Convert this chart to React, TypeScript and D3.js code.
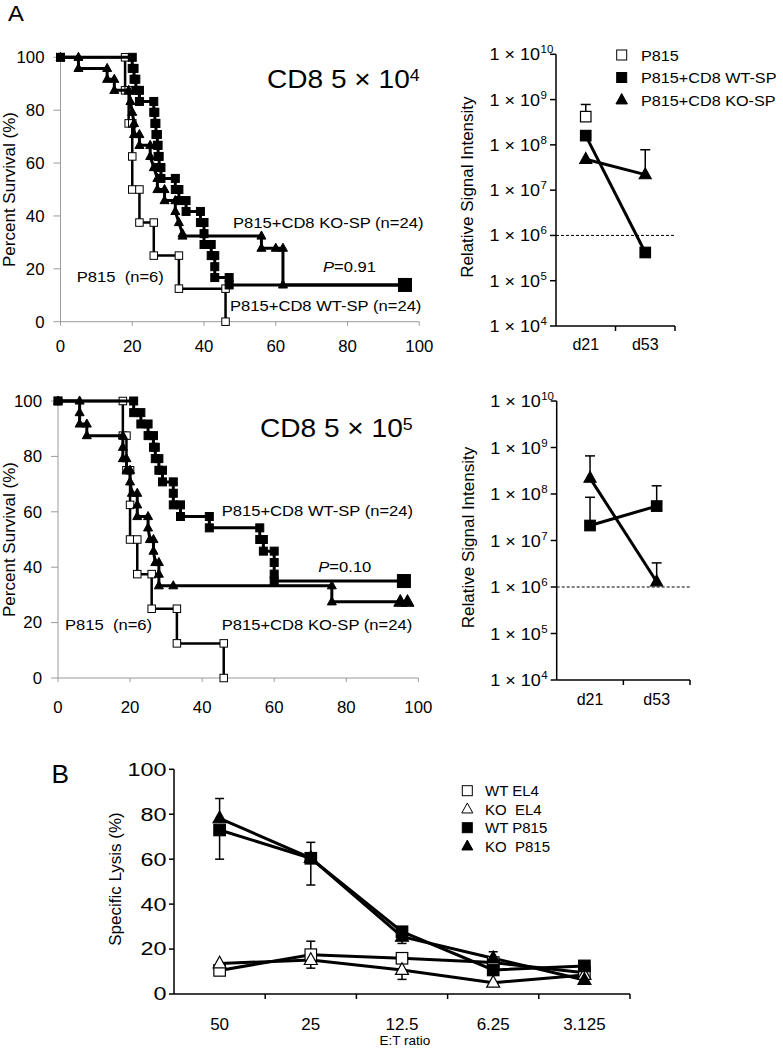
import React from 'react';
import * as d3 from 'd3';

const FONT = "'Liberation Sans', Arial, Helvetica, sans-serif";
type Pt = [number, number];

// ---------- Panel A : Kaplan-Meier, CD8 5x10^4 ----------
const kmTicks = [0, 20, 40, 60, 80, 100];
const km1P815: Pt[] = [[0,100],[18,100],[18,87.5],[19,87.5],[19,75],[20,75],[20,62.5],[20,50],[22,50],[22,37.5],[26,37.5],[26,25],[33,25],[33,12.5],[46,12.5],[46,0]];
const km1KO: Pt[] = [[0,100],[5,100],[5,95.8],[13,95.8],[13,91.7],[15,91.7],[15,87.5],[19,87.5],[19.5,83.3],[20,79.2],[20.5,75],[20.5,70.8],[22,70.8],[22,66.7],[25,66.7],[25,62.5],[26,58.3],[27,54.2],[27,50],[29,50],[29,45.8],[32,45.8],[32,41.7],[33,37.5],[34,33.3],[34,32.4],[56,32.4],[56,27.8],[60,27.8],[62,27.8],[62,13.9],[96,13.9]];
const km1WT: Pt[] = [[0,100],[20,100],[20,95.8],[20.5,95.8],[20.5,91.7],[21,91.7],[21,87.5],[22,87.5],[22,83.3],[26,83.3],[26,79.2],[26.3,79.2],[26.3,75],[26.6,75],[26.6,70.8],[27,70.8],[27,66.7],[27.2,66.7],[27.2,62.5],[27.5,62.5],[27.5,58.3],[28,58.3],[28,54.2],[32,54.2],[32,50],[33,50],[33,45.8],[35,45.8],[35,41.7],[39,41.7],[39,37.5],[40,37.5],[40,33.3],[40,29.2],[42,29.2],[42,25],[43,25],[43,20.8],[43,16.7],[47,16.7],[47,13.9]];
const km1WTEnd: Pt[] = [[96,13.9]];
const km1KOEnd: Pt[] = [];

// ---------- Panel A : Kaplan-Meier, CD8 5x10^5 ----------
const km2P815: Pt[] = [[0,100],[18,100],[18,87.5],[19,87.5],[19,75],[20,75],[20,62.5],[20,50],[22,50],[22,37.5],[26,37.5],[26,25],[33,25],[33,12.5],[46,12.5],[46,0]];
const km2KO: Pt[] = [[0,100],[6,100],[6,95.8],[6,91.7],[8,91.7],[8,87.5],[18,87.5],[18,83.3],[18,79.2],[19,79.2],[19,75],[20,75],[20,70.8],[20.5,66.7],[22,66.7],[22,62.5],[22,58.3],[25,58.3],[25,54.2],[25.5,50],[26.5,50],[26.5,45.8],[27,41.7],[28,41.7],[28,37.5],[28,33.3],[32,33.3],[76,33.3],[76,27.5]];
const km2WT: Pt[] = [[0,100],[21,100],[21,95.8],[23,95.8],[23,91.7],[25,91.7],[25,87.5],[26.5,87.5],[26.5,83.3],[27,83.3],[27,79.2],[28,79.2],[28,75],[29,75],[29,70.8],[32,70.8],[32,66.7],[32,62.5],[34,62.5],[34,58.3],[42,58.3],[42,54.2],[56,54.2],[56,50],[57,50],[57,45.8],[60,45.8],[60,41.7],[60,37.5],[60,35]];
const km2WTEnd: Pt[] = [[96,35]];
const km2KOEnd: Pt[] = [[95,27.5],[97,27.5]];

// ---------- Panel A : bioluminescence (log) ----------
const days = ['d21', 'd53'];
const logPowers = [4, 5, 6, 7, 8, 9, 10];
const detectionLimit = 1e6;
const sig1P815: (number | null)[] = [4.2e8, null];
const sig1P815Err: (number | null)[] = [7.8e8, null];
const sig1WT: (number | null)[] = [1.6e8, 4.2e5];
const sig1WTErr: (number | null)[] = [null, null];
const sig1KO: (number | null)[] = [4.8e7, 2.2e7];
const sig1KOErr: (number | null)[] = [null, 7.8e7];
const sig2WT: (number | null)[] = [2.1e7, 5.5e7];
const sig2WTErr: (number | null)[] = [8.5e7, 1.5e8];
const sig2KO: (number | null)[] = [2.2e8, 1.3e6];
const sig2KOErr: (number | null)[] = [6.6e8, 3.3e6];

// ---------- Panel B : cytotoxicity ----------
const etRatios = ['50', '25', '12.5', '6.25', '3.125'];
const lysisTicks = [0, 20, 40, 60, 80, 100];
const wtEL4 = [10.5, 17.5, 15.9, 14, 9.5];
const koEL4 = [13.6, 15.1, 10.7, 5, 8.5];
const wtP815 = [73, 60.4, 27.7, 10.7, 12.5];
const koP815 = [78.2, 60.5, 25.5, 15.9, 6.2];
const wtEL4Err: (number | null)[] = [null, 23.5, null, null, null];
const koEL4Err: (number | null)[] = [null, 11.5, 6.5, null, null];
const wtP815Err: (number | null)[] = [60, 48.5, null, null, null];
const koP815Err: (number | null)[] = [87, 67.5, 22.5, 18.8, null];

function Txt({ x, y, size, anchor = 'start', sx = 1, rot = 0, italic = false, children }: any) {
  let tr = `translate(${x},${y})`;
  if (rot) tr += ` rotate(${rot})`;
  if (sx !== 1) tr += ` scale(${sx},1)`;
  return (
    <text transform={tr} fontFamily={FONT} fontSize={size} textAnchor={anchor}
      fontStyle={italic ? 'italic' : 'normal'} fill="#000" style={{ whiteSpace: 'pre' }}>
      {children}
    </text>
  );
}

function Mk({ shape, fill, x, y, s, sw = 1 }: any) {
  const f = fill ? '#000' : '#fff';
  if (shape === 'sq') {
    return <rect x={x - s / 2} y={y - s / 2} width={s} height={s} fill={f} stroke="#000" strokeWidth={sw} />;
  }
  const h = s * 0.9;
  return <path d={`M${x},${y - h * 0.62}L${x + s / 2},${y + h * 0.38}L${x - s / 2},${y + h * 0.38}Z`} fill={f} stroke="#000" strokeWidth={sw} />;
}

function KM({ x0, x1, y0, y1, labelBase, series }: any) {
  const x = d3.scaleLinear().domain([0, 100]).range([x0, x1]);
  const y = d3.scaleLinear().domain([0, 100]).range([y0, y1]);
  const line = d3.line<Pt>().x(d => x(d[0])).y(d => y(d[1]));
  const axc = '#9a9a9a';
  return (
    <g>
      <line x1={x(0)} x2={x(0)} y1={y(0)} y2={y(100)} stroke={axc} strokeWidth={1} />
      <line x1={x(0)} x2={x(100)} y1={y(0)} y2={y(0)} stroke={axc} strokeWidth={1} />
      {kmTicks.map(t => (
        <g key={'y' + t}>
          <line x1={x(0) - 7} x2={x(0)} y1={y(t)} y2={y(t)} stroke={axc} />
          <Txt x={x(0) - 16} y={y(t) + 5.8} size={16} anchor="end" sx={1.05}>{String(t)}</Txt>
        </g>
      ))}
      {kmTicks.map(t => (
        <g key={'x' + t}>
          <line x1={x(t)} x2={x(t)} y1={y(0)} y2={y(0) + 4} stroke={axc} />
          <Txt x={x(t)} y={labelBase} size={16} anchor="middle" sx={1.05}>{String(t)}</Txt>
        </g>
      ))}
      {series.map((s: any, i: number) => (
        <g key={i}>
          <path d={line(s.pts) || ''} fill="none" stroke="#000" strokeWidth={s.lw} strokeLinejoin="miter" />
          {s.end.length > 0 && (
            <path d={line([s.pts[s.pts.length - 1], ...s.end]) || ''} fill="none" stroke="#000" strokeWidth={s.lw} />
          )}
          {s.pts.map((p: Pt, j: number) => (
            <Mk key={j} shape={s.shape} fill={s.fill} x={x(p[0])} y={y(p[1])} s={s.ms} />
          ))}
          {s.end.map((p: Pt, j: number) => (
            <Mk key={'e' + j} shape={s.shape} fill={s.fill} x={x(p[0])} y={y(p[1])} s={13} />
          ))}
        </g>
      ))}
    </g>
  );
}

function LogPanel({ x0, x1, yTop, yBot, labelBase, series, legend }: any) {
  const x = d3.scaleBand<string>().domain(days).range([x0, x1]);
  const cx = (d: string) => (x(d) as number) + x.bandwidth() / 2;
  const y = d3.scaleLog().domain([1e4, 1e10]).range([yBot, yTop]);
  return (
    <g>
      <line x1={x0} x2={x0} y1={yBot} y2={yTop} stroke="#000" strokeWidth={1.5} />
      <line x1={x0} x2={x1} y1={yBot} y2={yBot} stroke="#000" strokeWidth={1.5} />
      {logPowers.map(p => (
        <g key={p}>
          <line x1={x0 - 6} x2={x0} y1={y(Math.pow(10, p))} y2={y(Math.pow(10, p))} stroke="#000" strokeWidth={1.5} />
          <Txt x={x0 - 16} y={y(Math.pow(10, p)) + 6} size={17} anchor="end" sx={1.06}>1 × 10</Txt>
          <Txt x={x0 - 15.5} y={y(Math.pow(10, p)) - 1} size={11.5}>{String(p)}</Txt>
        </g>
      ))}
      {days.map((d, i) => (
        <g key={d}>
          <line x1={(x(d) as number) + x.bandwidth()} x2={(x(d) as number) + x.bandwidth()} y1={yBot} y2={yBot + 5} stroke="#000" strokeWidth={1.5} />
          <Txt x={cx(d)} y={labelBase} size={16} anchor="middle">{d}</Txt>
        </g>
      ))}
      <line x1={x0} x2={x1 + 1} y1={y(detectionLimit)} y2={y(detectionLimit)} stroke="#000" strokeWidth={1} strokeDasharray="3,2" />
      <Txt x={x0 - 83} y={(yTop + yBot) / 2 - 3} size={17} anchor="middle" rot={-90}>Relative Signal Intensity</Txt>
      {series.map((s: any, i: number) => {
        const pts = s.vals.map((v: number | null, j: number) => (v == null ? null : [cx(days[j]), y(v)])).filter((p: any) => p);
        return (
          <g key={i}>
            {s.err.map((e: number | null, j: number) => e == null || s.vals[j] == null ? null : (
              <g key={j}>
                <line x1={cx(days[j])} x2={cx(days[j])} y1={y(s.vals[j])} y2={y(e)} stroke="#000" strokeWidth={1.5} />
                <line x1={cx(days[j]) - 5} x2={cx(days[j]) + 5} y1={y(e)} y2={y(e)} stroke="#000" strokeWidth={1.5} />
              </g>
            ))}
            {pts.length > 1 && <path d={d3.line()(pts) || ''} stroke="#000" strokeWidth={3} fill="none" />}
            {pts.map((p: any, j: number) => <Mk key={j} shape={s.shape} fill={s.fill} x={p[0]} y={p[1]} s={s.shape === 'sq' ? 10.5 : 12} sw={1.2} />)}
          </g>
        );
      })}
      {legend && legend.map((l: any, i: number) => (
        <g key={i}>
          <Mk shape={l.shape} fill={l.fill} x={621.7} y={55 + i * 22.5} s={l.shape === 'sq' ? 10 : 11.5} />
          <Txt x={641} y={55 + i * 22.5 + 5.5} size={15} sx={1.08}>{l.label}</Txt>
        </g>
      ))}
    </g>
  );
}

function PanelB() {
  const x = d3.scaleBand<string>().domain(etRatios).range([174, 630]);
  const cx = (d: string) => (x(d) as number) + x.bandwidth() / 2;
  const y = d3.scaleLinear().domain([0, 100]).range([994, 769.3]);
  const series = [
    { vals: wtEL4, err: wtEL4Err, shape: 'sq', fill: false, label: 'WT EL4' },
    { vals: koEL4, err: koEL4Err, shape: 'tri', fill: false, label: 'KO  EL4' },
    { vals: koP815, err: koP815Err, shape: 'tri', fill: true, label: 'KO  P815' },
    { vals: wtP815, err: wtP815Err, shape: 'sq', fill: true, label: 'WT P815' },
  ];
  const legendOrder = [0, 1, 3, 2];
  const line = d3.line<number>().x((_, i) => cx(etRatios[i])).y(v => y(v));
  return (
    <g>
      <Txt x={51.5} y={783.3} size={25} sx={1.05}>B</Txt>
      <line x1={174} x2={174} y1={y(0)} y2={y(100)} stroke="#000" strokeWidth={1.5} />
      <line x1={174} x2={630} y1={y(0)} y2={y(0)} stroke="#000" strokeWidth={1.5} />
      {lysisTicks.map(t => (
        <g key={t}>
          <line x1={169} x2={174} y1={y(t)} y2={y(t)} stroke="#000" strokeWidth={1.5} />
          <Txt x={166.5} y={y(t) + 6.4} size={18} anchor="end" sx={1.3}>{String(t)}</Txt>
        </g>
      ))}
      {etRatios.map(r => (
        <g key={r}>
          <line x1={(x(r) as number) + x.bandwidth()} x2={(x(r) as number) + x.bandwidth()} y1={y(0)} y2={y(0) + 5} stroke="#000" strokeWidth={1.5} />
          <Txt x={cx(r)} y={1029.5} size={17} anchor="middle">{r}</Txt>
        </g>
      ))}
      <Txt x={405} y={1045.3} size={13.5} anchor="middle">E:T ratio</Txt>
      <Txt x={120.5} y={879} size={17} anchor="middle" rot={-90}>Specific Lysis (%)</Txt>
      {series.map((s, i) => (
        <g key={i}>
          {s.err.map((e, j) => e == null ? null : (
            <g key={j}>
              <line x1={cx(etRatios[j])} x2={cx(etRatios[j])} y1={y(s.vals[j])} y2={y(e)} stroke="#000" strokeWidth={1.5} />
              <line x1={cx(etRatios[j]) - 4.5} x2={cx(etRatios[j]) + 4.5} y1={y(e)} y2={y(e)} stroke="#000" strokeWidth={1.5} />
            </g>
          ))}
        </g>
      ))}
      {series.map((s, i) => (
        <path key={i} d={line(s.vals) || ''} fill="none" stroke="#000" strokeWidth={3} />
      ))}
      {series.map((s, i) => (
        <g key={i}>
          {s.vals.map((v, j) => (
            <Mk key={j} shape={s.shape} fill={s.fill} x={cx(etRatios[j])} y={y(v)} s={s.shape === 'sq' ? 11.5 : 13} sw={1.2} />
          ))}
        </g>
      ))}
      {legendOrder.map((k, i) => (
        <g key={i}>
          <Mk shape={series[k].shape} fill={series[k].fill} x={467.3} y={790.7 + i * 18.5} s={series[k].shape === 'sq' ? 10 : 11} />
          <Txt x={485} y={790.7 + i * 18.5 + 5.3} size={15}>{series[k].label}</Txt>
        </g>
      ))}
    </g>
  );
}

export default function App() {
  const km1Series = [
    { pts: km1P815, end: [], shape: 'sq', fill: false, ms: 7.5, lw: 2.5 },
    { pts: km1KO, end: km1KOEnd, shape: 'tri', fill: true, ms: 9, lw: 3 },
    { pts: km1WT, end: km1WTEnd, shape: 'sq', fill: true, ms: 8, lw: 3 },
  ];
  const km2Series = [
    { pts: km2P815, end: [], shape: 'sq', fill: false, ms: 7.5, lw: 2.5 },
    { pts: km2KO, end: km2KOEnd, shape: 'tri', fill: true, ms: 9, lw: 3 },
    { pts: km2WT, end: km2WTEnd, shape: 'sq', fill: true, ms: 8, lw: 3 },
  ];
  return (
    <svg width={783} height={1049} style={{ position: 'absolute', left: 0, top: 0, background: '#fff' }}>
      <rect x={0} y={0} width={783} height={1049} fill="#fff" />
      <Txt x={8} y={20.5} size={22} sx={1.08}>A</Txt>

      {/* KM 1 */}
      <KM x0={60.5} x1={419.3} y0={321.7} y1={57.3} labelBase={352} series={km1Series} />
      <Txt x={14.5} y={189.5} size={17} anchor="middle" rot={-90}>Percent Survival (%)</Txt>
      <text transform="translate(267,88.3) scale(1.08,1)" fontFamily={FONT} fontSize={26}>CD8 5 × 10<tspan fontSize={16.5} dy={-7}>4</tspan></text>
      <Txt x={233} y={227.5} size={15.5} sx={1.07}>P815+CD8 KO-SP (n=24)</Txt>
      <text transform="translate(323,271.7) scale(1.07,1)" fontFamily={FONT} fontSize={15.5}><tspan fontStyle="italic">P</tspan>=0.91</text>
      <Txt x={76.7} y={281.7} size={15.5} sx={1.07}>P815  (n=6)</Txt>
      <Txt x={230} y={311} size={15.5} sx={1.07}>P815+CD8 WT-SP (n=24)</Txt>

      {/* KM 2 */}
      <KM x0={58} x1={418.3} y0={678} y1={401} labelBase={713} series={km2Series} />
      <Txt x={14.5} y={539.5} size={17} anchor="middle" rot={-90}>Percent Survival (%)</Txt>
      <text transform="translate(260,436.7) scale(1.08,1)" fontFamily={FONT} fontSize={26}>CD8 5 × 10<tspan fontSize={16.5} dy={-7}>5</tspan></text>
      <Txt x={221.7} y={515.5} size={15.5} sx={1.07}>P815+CD8 WT-SP (n=24)</Txt>
      <text transform="translate(318.3,571.7) scale(1.07,1)" fontFamily={FONT} fontSize={15.5}><tspan fontStyle="italic">P</tspan>=0.10</text>
      <Txt x={65} y={629.5} size={15.5} sx={1.07}>P815  (n=6)</Txt>
      <Txt x={221.7} y={629.5} size={15.5} sx={1.07}>P815+CD8 KO-SP (n=24)</Txt>

      {/* Log panels */}
      <LogPanel x0={556} x1={675} yTop={54.3} yBot={326} labelBase={350}
        series={[
          { vals: sig1P815, err: sig1P815Err, shape: 'sq', fill: false },
          { vals: sig1KO, err: sig1KOErr, shape: 'tri', fill: true },
          { vals: sig1WT, err: sig1WTErr, shape: 'sq', fill: true },
        ]}
        legend={[
          { shape: 'sq', fill: false, label: 'P815' },
          { shape: 'sq', fill: true, label: 'P815+CD8 WT-SP' },
          { shape: 'tri', fill: true, label: 'P815+CD8 KO-SP' },
        ]} />
      <LogPanel x0={556.7} x1={690} yTop={401} yBot={680} labelBase={705}
        series={[
          { vals: sig2WT, err: sig2WTErr, shape: 'sq', fill: true },
          { vals: sig2KO, err: sig2KOErr, shape: 'tri', fill: true },
        ]} />

      <PanelB />
    </svg>
  );
}
